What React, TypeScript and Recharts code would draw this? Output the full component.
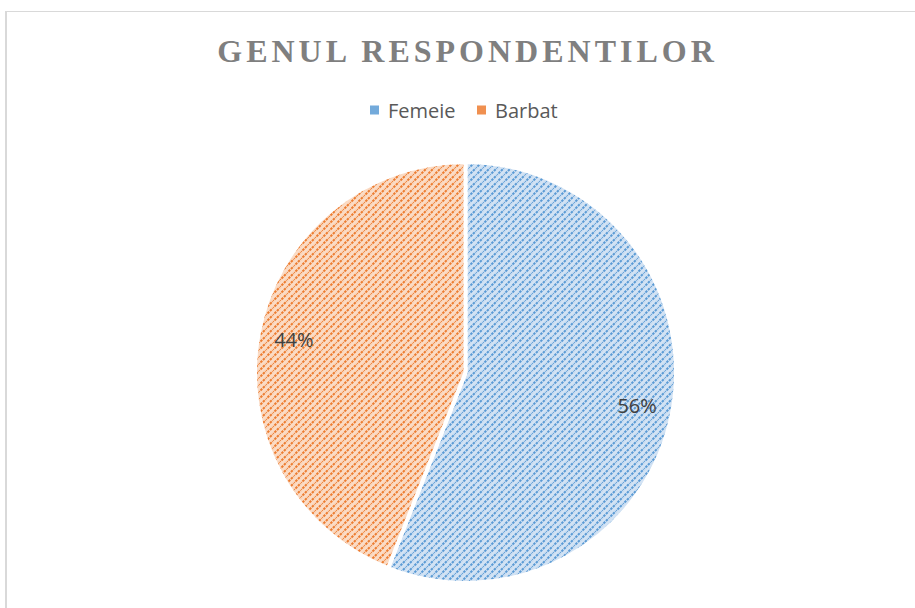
import React from "react";
import { PieChart, Pie, Cell } from "recharts";

const categories = ["Femeie", "Barbat"];
const shares = [56, 44];
const title = "GENUL RESPONDENTILOR";

const stripeColors = ["#5b9bd5", "#ed7d31"];
const bgColors = ["#d3e3f4", "#fbdcc6"];

const data = categories.map((name, i) => ({ name, value: shares[i] }));

const RAD = Math.PI / 180;

const renderLabel = (props: any) => {
  const { cx, cy, midAngle, outerRadius, percent } = props;
  const r = outerRadius * 0.83;
  const x = cx + r * Math.cos(-midAngle * RAD);
  const y = cy + r * Math.sin(-midAngle * RAD);
  return (
    <text
      x={x}
      y={y}
      fill="#404040"
      textAnchor="middle"
      dominantBaseline="central"
      fontFamily="'Open Sans', sans-serif"
      fontSize={20}
    >
      {`${Math.round(percent * 100)}%`}
    </text>
  );
};

export default function App() {
  return (
    <div style={{ position: "absolute", left: 0, top: 0, width: 915, height: 608, overflow: "hidden", background: "#fff" }}>
      <svg width={0} height={0} style={{ position: "absolute" }}>
        <defs>
          {categories.map((c, i) => (
            <pattern key={c} id={`pat${i}`} patternUnits="userSpaceOnUse" width={7} height={7}>
              <rect x={0} y={0} width={7} height={7} fill={bgColors[i]} />
              <path
                d="M-1,8 L8,-1 M-2,2 L2,-2 M5,9 L9,5"
                stroke={stripeColors[i]}
                strokeWidth={2}
                strokeDasharray="2.5 1"
              />
            </pattern>
          ))}
        </defs>
      </svg>
      <div
        style={{
          position: "absolute",
          left: 5,
          top: 11,
          width: 930,
          height: 620,
          borderLeft: "2px solid #d9d9d9",
          borderTop: "1px solid #d9d9d9",
        }}
      />
      <svg width={915} height={130} style={{ position: "absolute", left: 0, top: 0 }}>
        <text
          x={467.5}
          y={62}
          textAnchor="middle"
          fontFamily="'Liberation Serif', 'Times New Roman', serif"
          fontWeight="bold"
          fontSize={32}
          letterSpacing={4}
          fill="#7f7f7f"
        >
          {title}
        </text>
        {categories.map((c, i) => {
          const xs = [370, 477];
          return (
            <g key={c}>
              <rect x={xs[i]} y={105.5} width={9} height={9} fill={stripeColors[i]} opacity={0.85} />
              <text
                x={xs[i] + 18}
                y={110}
                dominantBaseline="central"
                fontFamily="'Open Sans', sans-serif"
                fontSize={20}
                fill="#595959"
              >
                {c}
              </text>
            </g>
          );
        })}
      </svg>
      <div style={{ position: "absolute", left: 0, top: 0 }}>
        <PieChart width={915} height={608} margin={{ top: 0, right: 0, bottom: 0, left: 0 }}>
          <Pie
            data={data}
            dataKey="value"
            nameKey="name"
            cx={465.5}
            cy={372.5}
            outerRadius={210.5}
            startAngle={90}
            endAngle={-270}
            stroke="#ffffff"
            strokeWidth={4}
            label={renderLabel}
            labelLine={false}
            isAnimationActive={false}
          >
            {data.map((d, i) => (
              <Cell key={d.name} fill={`url(#pat${i})`} />
            ))}
          </Pie>
        </PieChart>
      </div>
    </div>
  );
}
